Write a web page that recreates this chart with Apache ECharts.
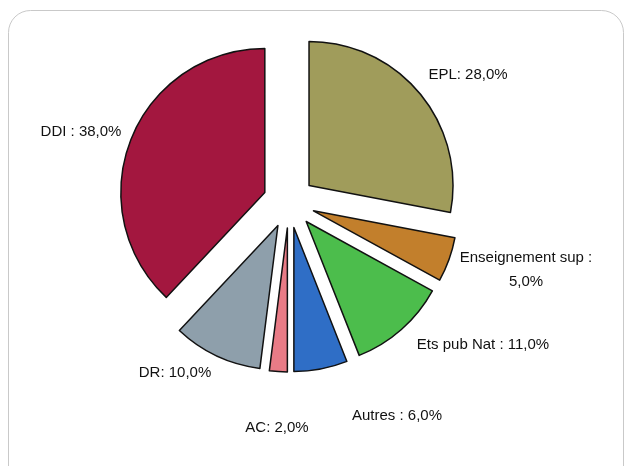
<!DOCTYPE html>
<html>
<head>
<meta charset="utf-8">
<style>
  html, body { margin: 0; padding: 0; background: #ffffff; }
  #chart { width: 629px; height: 466px; }
</style>
<script src="https://cdn.jsdelivr.net/npm/echarts@6/dist/echarts.min.js"></script>
</head>
<body>
<div id="chart"></div>
<script>
// Répartition par type de structure (parts en %)
const categories = ['EPL', 'Enseignement sup', 'Ets pub Nat', 'Autres', 'AC', 'DR', 'DDI'];
const values = [28.0, 5.0, 11.0, 6.0, 2.0, 10.0, 38.0];
const separators = [': ', ' :\n', ' : ', ' : ', ': ', ': ', ' : '];
const colors = ['#a09c5b', '#c27f2c', '#4cbd4c', '#2f6ec6', '#e97b86', '#8e9fab', '#a3173f'];

// label anchor points (centre of each text block)
const labelAnchors = [[468, 75], [526, 270], [483, 345], [397, 416], [277, 428], [175, 373], [81, 132]];

function fmtPct(v) {
  return v.toFixed(1).replace('.', ',') + '%';
}

const chart = echarts.init(document.getElementById('chart'), null, { renderer: 'canvas' });

const data = categories.map((name, i) => ({
  name: name,
  value: values[i],
  selected: true,
  itemStyle: { color: colors[i] }
}));

const labelGraphics = categories.map((name, i) => ({
  type: 'text',
  silent: true,
  x: labelAnchors[i][0],
  y: labelAnchors[i][1],
  style: {
    text: name + separators[i] + fmtPct(values[i]),
    fill: '#111111',
    font: '15px "Liberation Sans", Arial, sans-serif',
    lineHeight: 24,
    align: 'center',
    verticalAlign: 'middle'
  }
}));

chart.setOption({
  animation: false,
  backgroundColor: '#ffffff',
  graphic: [{
    type: 'rect',
    silent: true,
    z: -1,
    shape: { x: 8.5, y: 10.5, width: 615, height: 480, r: 22 },
    style: { fill: '#ffffff', stroke: '#c9c9c9', lineWidth: 1 }
  }].concat(labelGraphics),
  series: [{
    type: 'pie',
    center: [289, 202],
    radius: [0, 144],
    startAngle: 90,
    clockwise: true,
    selectedMode: 'multiple',
    selectedOffset: 26,
    emphasis: { disabled: true },
    itemStyle: { borderColor: '#111111', borderWidth: 1.5 },
    label: { show: false },
    labelLine: { show: false },
    data: data
  }]
});
</script>
</body>
</html>
